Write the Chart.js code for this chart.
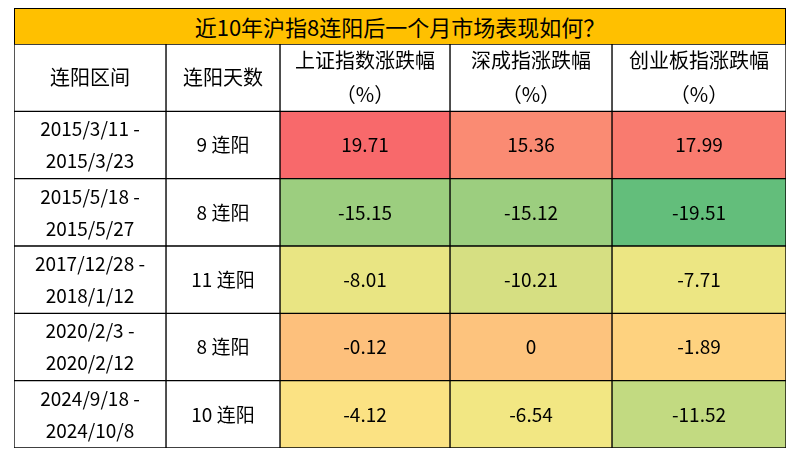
<!DOCTYPE html>
<html><head><meta charset="utf-8">
<script src="https://cdn.jsdelivr.net/npm/chart.js@4"></script>
<style>
body{margin:0;background:#fff;width:800px;height:460px;position:relative;overflow:hidden}
#title{position:absolute;left:14px;top:8px;width:770px;height:35px;background:#FFC000;border:1px solid #000;font:22px "Noto Sans CJK SC";line-height:35px;text-align:center;color:#000}
#wrap{position:absolute;left:0;top:44px;width:800px;height:416px}
</style></head><body>
<div id="title">近10年沪指8连阳后一个月市场表现如何？</div>
<div id="wrap"><canvas id="c"></canvas></div>
<script>
const headers=[["连阳区间"],["连阳天数"],["上证指数涨跌幅","（%）"],["深成指涨跌幅","（%）"],["创业板指涨跌幅","（%）"]];
const periods=[["2015/3/11 -","2015/3/23"],["2015/5/18 -","2015/5/27"],["2017/12/28 -","2018/1/12"],["2020/2/3 -","2020/2/12"],["2024/9/18 -","2024/10/8"]];
const days=["9 连阳","8 连阳","11 连阳","8 连阳","10 连阳"];
const shChg=[19.71,-15.15,-8.01,-0.12,-4.12];
const szChg=[15.36,-15.12,-10.21,0,-6.54];
const cybChg=[17.99,-19.51,-7.71,-1.89,-11.52];
const cellColors=[
 ["#F8696B","#FA8B73","#F97B6F"],
 ["#9CCE7F","#9CCE7F","#63BE7B"],
 ["#E9E583","#D6DF82","#ECE683"],
 ["#FDC07C","#FDC37D","#FED27F"],
 ["#FBE283","#F2E783","#C2DA81"]];
const bounds=[14,166,280,450,612,786];
const rows=["h","r1","r2","r3","r4","r5"];
const cols=[null,null,shChg,szChg,cybChg];
const datasets=[0,1,2,3,4].map(ci=>{
  const texts=[headers[ci]];
  const bg=["#fff"];
  for(let r=0;r<5;r++){
    if(ci===0)texts.push(periods[r]);
    else if(ci===1)texts.push([days[r]]);
    else texts.push([String(cols[ci][r])]);
    bg.push(ci<2?"#fff":cellColors[r][ci-2]);
  }
  return {data:rows.map(()=>[bounds[ci],bounds[ci+1]]),backgroundColor:bg,borderColor:"#000",borderWidth:1,borderSkipped:false,texts,grouped:false,categoryPercentage:1,barPercentage:1};
});
const textPlugin={id:"t",afterDatasetsDraw(ch){
  const ctx=ch.ctx;ctx.save();ctx.fillStyle="#000";ctx.textAlign="center";ctx.textBaseline="middle";
  ch.data.datasets.forEach((ds,i)=>{ch.getDatasetMeta(i).data.forEach((el,j)=>{
    const lines=ds.texts[j];const cx=(el.x+el.base)/2;const cy=el.y;
    ctx.font=(j===0?"20px":"19px")+' "Noto Sans CJK SC"';
    const lh=j===0?34:32;
    lines.forEach((l,k)=>ctx.fillText(l,cx,cy+(k-(lines.length-1)/2)*lh));
  });});ctx.restore();}};
new Chart(document.getElementById("c"),{type:"bar",data:{labels:rows,datasets},
options:{indexAxis:"y",responsive:true,maintainAspectRatio:false,animation:false,
layout:{padding:{left:14,right:14,top:0,bottom:12}},
plugins:{legend:{display:false},tooltip:{enabled:false}},
scales:{x:{type:"linear",min:14,max:786,display:false},y:{display:false,offset:true}}},
plugins:[textPlugin]});
</script></body></html>
